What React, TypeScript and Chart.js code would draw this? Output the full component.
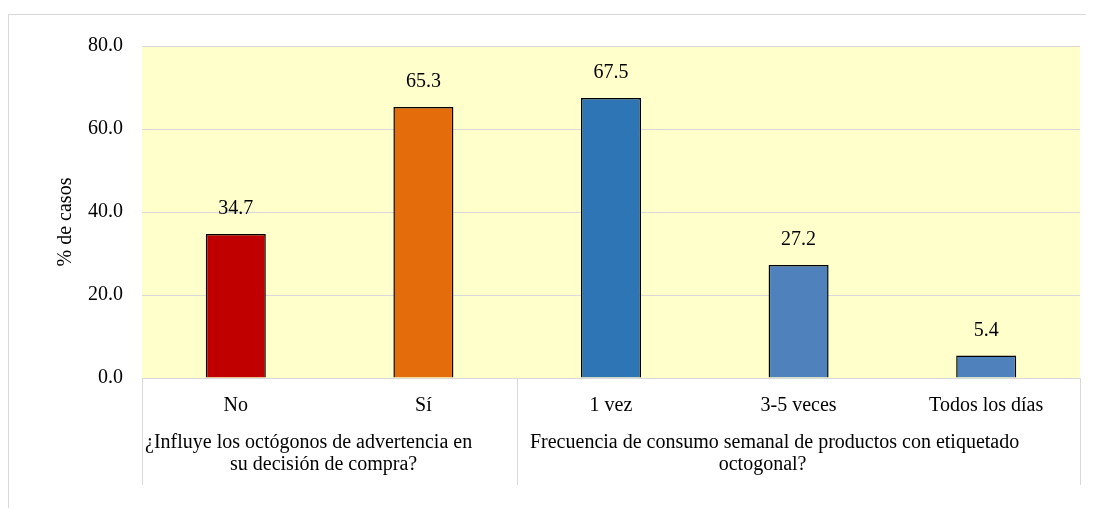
import React, { useEffect, useRef } from "react";
import { Chart, registerables } from "chart.js";

Chart.register(...registerables);

const categories = ["No", "Sí", "1 vez", "3-5 veces", "Todos los días"];
const values = [34.7, 65.3, 67.5, 27.2, 5.4];
const barColors = ["#C00000", "#E46C0A", "#2E75B6", "#4F81BD", "#4F81BD"];
const groups = [
  { lines: ["¿Influye los octógonos de advertencia en", "su decisión de compra?"], start: 0, end: 1 },
  { lines: ["Frecuencia de consumo semanal de productos con etiquetado", "octogonal?"], start: 2, end: 4 },
];
const groupLineOffsets = [
  [-21, -6],
  [-24, -36],
];
const yTitle = "% de casos";
const yMin = 0;
const yMax = 80;
const yStep = 20;

const FONT = "'Liberation Serif', 'Times New Roman', serif";
const FS = 20;

export default function App() {
  const ref = useRef<HTMLCanvasElement | null>(null);
  useEffect(() => {
    const canvas = ref.current!;
    const plugin = {
      id: "custom",
      beforeDraw(chart: any) {
        const { ctx, chartArea } = chart;
        ctx.save();
        ctx.fillStyle = "#FFFFCC";
        ctx.fillRect(chartArea.left, chartArea.top, chartArea.right - chartArea.left, chartArea.bottom - chartArea.top);
        ctx.restore();
      },
      afterDraw(chart: any) {
        const { ctx, chartArea } = chart;
        const x = chart.scales.x;
        const meta = chart.getDatasetMeta(0);
        ctx.save();
        ctx.fillStyle = "#000";
        ctx.font = `${FS}px ${FONT}`;
        ctx.textAlign = "center";
        ctx.textBaseline = "middle";
        meta.data.forEach((bar: any, i: number) => {
          ctx.fillText(values[i].toFixed(1), bar.x, bar.y - 25);
        });
        categories.forEach((c, i) => {
          ctx.fillText(c, x.getPixelForValue(i), chartArea.bottom + 28);
        });
        const half = (x.getPixelForValue(1) - x.getPixelForValue(0)) / 2;
        ctx.strokeStyle = "#d9d9d9";
        ctx.lineWidth = 1;
        const bottomY = chartArea.bottom + 107;
        const seps = [x.getPixelForValue(0) - half];
        groups.forEach((g) => seps.push(x.getPixelForValue(g.end) + half));
        seps.forEach((sx) => {
          const px = Math.round(sx) + 0.5;
          ctx.beginPath();
          ctx.moveTo(px, chartArea.bottom);
          ctx.lineTo(px, bottomY);
          ctx.stroke();
        });
        groups.forEach((g, gi) => {
          const cx = (x.getPixelForValue(g.start) - half + x.getPixelForValue(g.end) + half) / 2;
          g.lines.forEach((ln, li) => {
            ctx.fillText(ln, cx + groupLineOffsets[gi][li], chartArea.bottom + 65 + li * 22);
          });
        });
        ctx.translate(57, (chartArea.top + chartArea.bottom) / 2 + 10);
        ctx.rotate(-Math.PI / 2);
        ctx.fillText(yTitle, 0, 0);
        ctx.restore();
      },
    };
    const chart = new Chart(canvas, {
      type: "bar",
      data: {
        labels: categories,
        datasets: [
          {
            data: values,
            backgroundColor: barColors,
            borderColor: "#000",
            borderWidth: 1.5,
            barPercentage: 0.32,
            categoryPercentage: 1,
          },
        ],
      },
      options: {
        responsive: false,
        animation: false,
        layout: { padding: { top: 26, right: 14, bottom: 130, left: 0 } },
        plugins: { legend: { display: false }, tooltip: { enabled: false } },
        scales: {
          x: { display: false },
          y: {
            min: yMin,
            max: yMax,
            afterFit(scale: any) {
              scale.width = 133;
            },
            ticks: {
              stepSize: yStep,
              padding: 19,
              color: "#000",
              font: { family: FONT, size: FS },
              callback: (v: any) => Number(v).toFixed(1),
            },
            grid: { color: "#d9d9d9", lineWidth: 1, drawTicks: false },
            border: { display: false },
          },
        },
      },
      plugins: [plugin],
    });
    return () => chart.destroy();
  }, []);
  return (
    <div
      style={{
        marginTop: 6,
        width: 1086,
        height: 494,
        borderLeft: "1px solid #d9d9d9",
        borderTop: "1px solid #d9d9d9",
        boxSizing: "border-box",
      }}
    >
      <canvas ref={ref} width={1085} height={493} style={{ display: "block" }} />
    </div>
  );
}
